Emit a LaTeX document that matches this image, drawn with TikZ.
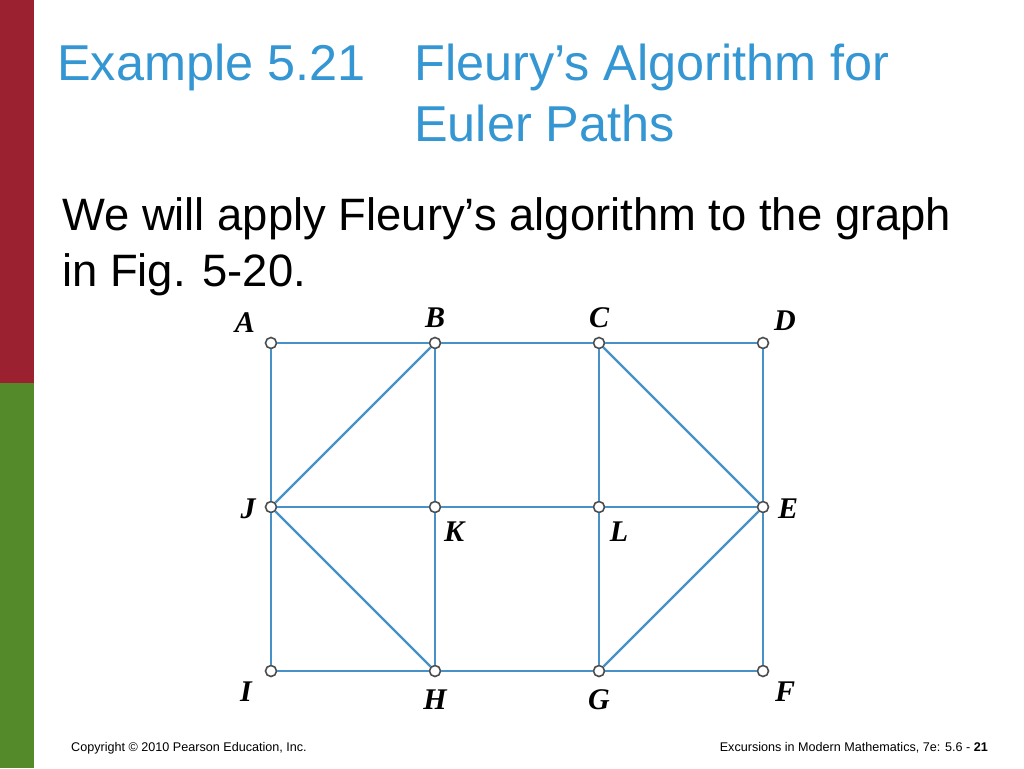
\documentclass[tikz,border=0pt]{standalone}
\usepackage{fontspec}
\setmainfont{Liberation Sans}
\newfontfamily\labelfont{Liberation Serif}
\usetikzlibrary{positioning}
\definecolor{barred}{RGB}{155,32,48}
\definecolor{bargreen}{RGB}{84,138,42}
\definecolor{titleblue}{RGB}{52,150,210}
\definecolor{edgeblue}{RGB}{70,145,200}

\begin{document}
\begin{tikzpicture}[
    x=1pt, y=-1pt,
    vertex/.style={circle, draw=black!70, fill=white, line width=1.6pt, inner sep=0pt, minimum size=11pt},
    edge/.style={draw=edgeblue, line width=2.2pt},
    vlabel/.style={font=\labelfont\bfseries\itshape\fontsize{30}{30}\selectfont, inner sep=0pt},
    titletext/.style={anchor=base west, inner sep=0pt, text=titleblue, font=\fontsize{50.4}{50}\selectfont},
    bodytext/.style={anchor=base west, inner sep=0pt, font=\fontsize{45.4}{45}\selectfont},
    foot/.style={inner sep=0pt, font=\fontsize{12.6}{12}\selectfont}
]
    \useasboundingbox (0,0) rectangle (1024,768);
    \fill[white] (0,0) rectangle (1024,768);
    % side bar
    \fill[barred] (0,0) rectangle (34,383);
    \fill[bargreen] (0,383) rectangle (34,768);

    % title and text
    \node[titletext] (t1) at (57,80) {Example 5.21};
    \node[titletext] (t2) at (414,80) {Fleury’s Algorithm for};
    \node[titletext] (t3) at (414,141) {Euler Paths};
    \node[bodytext] (b1) at (62,230) {We will apply Fleury’s algorithm to the graph};
    \node[bodytext] (b2) at (62,286) {in Fig. 5-20.};

    % vertices
    \node[vertex] (A) at (271,343) {};
    \node[vertex] (B) at (435,343) {};
    \node[vertex] (C) at (599,343) {};
    \node[vertex] (D) at (763,343) {};
    \node[vertex] (J) at (271,507) {};
    \node[vertex] (K) at (435,507) {};
    \node[vertex] (L) at (599,507) {};
    \node[vertex] (E) at (763,507) {};
    \node[vertex] (I) at (271,671) {};
    \node[vertex] (H) at (435,671) {};
    \node[vertex] (G) at (599,671) {};
    \node[vertex] (F) at (763,671) {};

    % edges
    \draw[edge] (A) -- (B);
    \draw[edge] (B) -- (C);
    \draw[edge] (C) -- (D);
    \draw[edge] (A) -- (J);
    \draw[edge] (J) -- (I);
    \draw[edge] (D) -- (E);
    \draw[edge] (E) -- (F);
    \draw[edge] (I) -- (H);
    \draw[edge] (H) -- (G);
    \draw[edge] (G) -- (F);
    \draw[edge] (J) -- (K);
    \draw[edge] (K) -- (L);
    \draw[edge] (L) -- (E);
    \draw[edge] (B) -- (K);
    \draw[edge] (K) -- (H);
    \draw[edge] (C) -- (L);
    \draw[edge] (L) -- (G);
    \draw[edge] (B) -- (J);
    \draw[edge] (J) -- (H);
    \draw[edge] (C) -- (E);
    \draw[edge] (E) -- (G);

    % vertex labels
    \node[vlabel] (lA) at (245,323) {A};
    \node[vlabel] (lB) at (435,318) {B};
    \node[vlabel] (lC) at (599,318) {C};
    \node[vlabel] (lD) at (785,321) {D};
    \node[vlabel] (lJ) at (248,509) {J};
    \node[vlabel] (lK) at (454,532) {K};
    \node[vlabel] (lL) at (619,532) {L};
    \node[vlabel] (lE) at (788,509) {E};
    \node[vlabel] (lI) at (246,692) {I};
    \node[vlabel] (lH) at (435,700) {H};
    \node[vlabel] (lG) at (599,700) {G};
    \node[vlabel] (lF) at (785,692) {F};

    % footer
    \node[foot, anchor=base west] (copy) at (71,751) {Copyright \textcopyright{} 2010 Pearson Education, Inc.};
    \node[foot, anchor=base east] (src) at (988,751) {Excursions in Modern Mathematics, 7e: 5.6 - \textbf{21}};
\end{tikzpicture}
\end{document}
